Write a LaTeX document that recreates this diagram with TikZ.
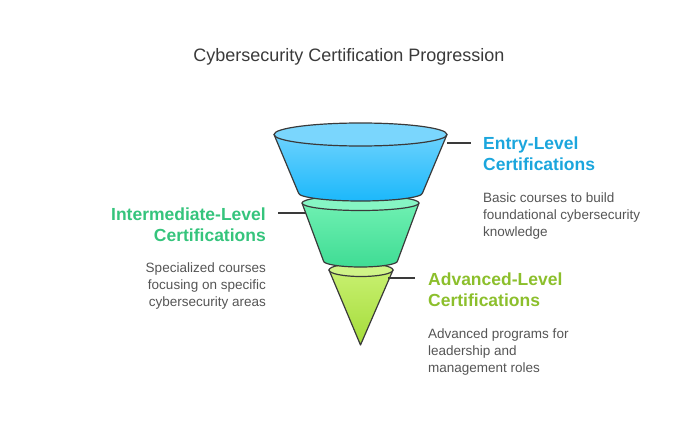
\documentclass[tikz,border=0pt]{standalone}
\usepackage{fontspec}
\setmainfont{Liberation Sans}
\usetikzlibrary{positioning}

\definecolor{inkgray}{HTML}{3A3A3A}
\definecolor{textgray}{HTML}{555555}
\definecolor{entryblue}{HTML}{1BA6DD}
\definecolor{midgreen}{HTML}{35C47C}
\definecolor{advlime}{HTML}{8CBF2C}
% funnel fills
\definecolor{blueTop}{HTML}{7AD6FD}
\definecolor{blueHi}{HTML}{6CD2FD}
\definecolor{blueLo}{HTML}{1CB8FB}
\definecolor{greenTop}{HTML}{86F5C4}
\definecolor{greenHi}{HTML}{6FF0B2}
\definecolor{greenLo}{HTML}{3FDC94}
\definecolor{limeTop}{HTML}{D0F488}
\definecolor{limeHi}{HTML}{C8F070}
\definecolor{limeLo}{HTML}{A4DC3A}

\tikzset{
  funnel/.style={draw=inkgray, line width=1.2pt, line join=round},
  heading/.style={inner sep=0pt, font=\bfseries\fontsize{17.5}{21}\selectfont},
  blurb/.style={inner sep=0pt, text=textgray, font=\fontsize{13.5}{17}\selectfont},
  leader/.style={draw=inkgray, line width=1.1pt}
}

\begin{document}
\begin{tikzpicture}[x=1pt,y=1pt]
\useasboundingbox (0,0) rectangle (700,421);

\node[text=inkgray, font=\fontsize{18}{21}\selectfont, anchor=base] (title) at (349,359) {Cybersecurity Certification Progression};

% advanced level
\shade[funnel, top color=limeHi, bottom color=limeLo] (329,151) -- (360.5,76) -- (393,151) -- cycle;
\filldraw[funnel, fill=limeTop] (361,151) ellipse (32 and 6.5);

% intermediate level
\shade[funnel, top color=greenHi, bottom color=greenLo]
  (302,218) -- (323.5,160) arc[start angle=180, end angle=360, x radius=37, y radius=6] -- (419,218) -- cycle;
\filldraw[funnel, fill=greenTop] (360.5,218) ellipse (58.5 and 7.5);

% entry level
\shade[funnel, top color=blueHi, bottom color=blueLo]
  (274,286.5) -- (298.5,228) arc[start angle=180, end angle=360, x radius=62, y radius=8] -- (447,286.5) -- cycle;
\filldraw[funnel, fill=blueTop] (360.5,286.5) ellipse (86.5 and 11.5);

\coordinate (e1) at (447,278);
\coordinate (i1) at (306,208);
\coordinate (a1) at (388,143);

\node[heading, text=entryblue, align=left, anchor=north west] (entryhead) at (483,284) {Entry-Level\\Certifications};
\node[blurb, align=left, anchor=north west] (entrytext) at (483,228) {Basic courses to build\\foundational cybersecurity\\knowledge};

\node[heading, text=midgreen, align=right, anchor=north east] (midhead) at (266,213) {Intermediate-Level\\Certifications};
\node[blurb, align=right, anchor=north east] (midtext) at (266,158) {Specialized courses\\focusing on specific\\cybersecurity areas};

\node[heading, text=advlime, align=left, anchor=north west] (advhead) at (428,148) {Advanced-Level\\Certifications};
\node[blurb, align=left, anchor=north west] (advtext) at (428,92) {Advanced programs for\\leadership and\\management roles};

\draw[leader, shorten >=12pt] (e1) -- (e1 -| entryhead.west);
\draw[leader] (i1) -- ++(-28,0) coordinate (i2);
\draw[leader] (a1) -- ++(27,0) coordinate (a2);

\end{tikzpicture}
\end{document}
